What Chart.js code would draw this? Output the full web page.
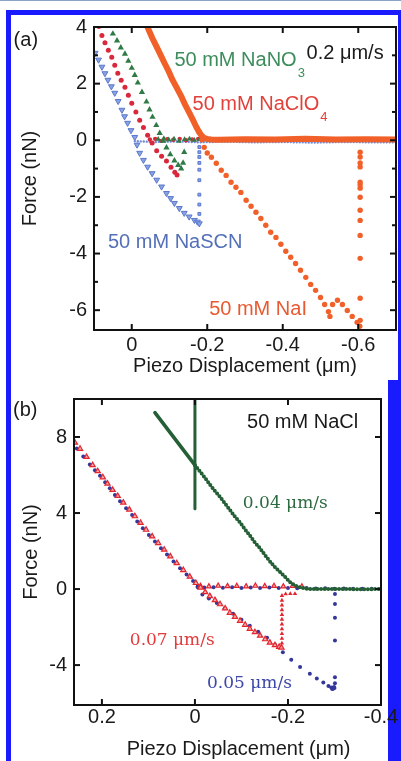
<!DOCTYPE html>
<html>
<head>
<meta charset="utf-8">
<title>Force curves</title>
<script src="https://cdn.jsdelivr.net/npm/chart.js@4.4.1/dist/chart.umd.min.js"></script>
<style>
  html, body { margin: 0; padding: 0; background: #fff; }
  body { width: 401px; height: 761px; position: relative; overflow: hidden; }
  .edge { position: absolute; background: #1a1aff; }
  canvas { position: absolute; left: 0; }
</style>
</head>
<body>
<div class="edge" style="left:0;top:0;width:401px;height:1px;background:#8aa4c4"></div>
<div class="edge" style="left:6px;top:10px;width:395px;height:5px"></div>
<div class="edge" style="left:6px;top:10px;width:5px;height:751px"></div>
<div class="edge" style="left:398px;top:10px;width:3px;height:370px"></div>
<div class="edge" style="left:388px;top:380px;width:13px;height:381px"></div>
<canvas id="panel-a" width="401" height="380" style="top:0"></canvas>
<canvas id="panel-b" width="401" height="381" style="top:380px"></canvas>
<script>
// ---- panel (a): 0.2 um/s, x = piezo displacement (um), y = force (nN)
const xTicksA = [0, -0.2, -0.4, -0.6];
const xLabelsA = ['0', '-0.2', '-0.4', '-0.6'];
const yTicksA = [-6, -4, -2, 0, 2, 4];
const yMinorA = [-5, -3, -1, 1, 3];

const nano3Retract = [[0.061,4.05],[0.050,3.76],[0.039,3.52],[0.029,3.27],[0.018,3.05],[0.009,2.80],[0.000,2.55],[-0.008,2.30],[-0.016,2.03],[-0.027,1.70],[-0.039,1.36],[-0.047,1.08],[-0.055,0.82],[-0.065,0.53],[-0.074,0.25],[-0.083,-0.02],[-0.092,-0.26],[-0.102,-0.50],[-0.113,-0.72],[-0.123,-0.88],[-0.131,-1.00],[-0.136,-0.80],[-0.139,-0.42]];
const nano3Approach = [[-0.070,0.04],[-0.085,0.06],[-0.098,0.02],[-0.112,0.05],[-0.125,-0.03],[-0.140,0.03],[-0.153,0.05],[-0.166,0.00],[-0.180,0.04],[-0.194,0.02]];

const naclo4Retract = [[0.087,4.02],[0.079,3.70],[0.071,3.44],[0.062,3.18],[0.053,2.93],[0.045,2.65],[0.037,2.37],[0.028,2.12],[0.018,1.87],[0.009,1.59],[0.000,1.31],[-0.011,1.00],[-0.021,0.71],[-0.031,0.45],[-0.042,0.18],[-0.054,-0.10],[-0.066,-0.37],[-0.079,-0.56],[-0.092,-0.73],[-0.104,-0.95],[-0.114,-1.13],[-0.120,-1.23]];
const naclo4Approach = [[-0.048,0.03],[-0.062,0.05],[-0.078,-0.02],[-0.094,0.04],[-0.110,0.02],[-0.127,0.05],[-0.144,0.00],[-0.160,0.03],[-0.176,0.05]];

const nascnRetract = [[0.097,3.08],[0.088,2.84],[0.079,2.59],[0.071,2.36],[0.063,2.13],[0.054,1.90],[0.045,1.67],[0.036,1.38],[0.026,1.07],[0.019,0.84],[0.011,0.61],[0.002,0.35],[-0.008,0.11],[-0.014,-0.16],[-0.021,-0.45],[-0.031,-0.70],[-0.042,-0.94],[-0.054,-1.17],[-0.066,-1.40],[-0.079,-1.64],[-0.092,-1.87],[-0.103,-2.05],[-0.113,-2.22],[-0.126,-2.40],[-0.139,-2.57],[-0.152,-2.70],[-0.166,-2.82],[-0.174,-2.88],[-0.179,-2.94]];
const nascnJump = [[-0.179,-2.60],[-0.179,-2.27],[-0.179,-1.92],[-0.179,-1.41],[-0.179,-1.04],[-0.179,-0.80],[-0.179,-0.59],[-0.179,-0.42],[-0.179,-0.24]];
const nascnApproach = [[-0.008,-0.03],[-0.06,-0.06],[-0.12,-0.04],[-0.18,-0.07],[-0.25,-0.05],[-0.32,-0.07],[-0.40,-0.06],[-0.48,-0.08],[-0.56,-0.06],[-0.64,-0.07],[-0.70,-0.07]];

const naiApproach = [[-0.040,4.05],[-0.054,3.62],[-0.066,3.30],[-0.077,3.00],[-0.087,2.72],[-0.098,2.43],[-0.108,2.13],[-0.120,1.83],[-0.132,1.53],[-0.142,1.24],[-0.153,0.96],[-0.162,0.72],[-0.171,0.47],[-0.178,0.30],[-0.184,0.18],[-0.191,0.09],[-0.199,0.05],[-0.210,0.03],[-0.23,0.02],[-0.30,0.04],[-0.38,0.03],[-0.46,0.05],[-0.54,0.03],[-0.62,0.04],[-0.70,0.03]];
const naiRetract = [[-0.178,0.30],[-0.186,0.02],[-0.192,-0.25],[-0.200,-0.45],[-0.211,-0.60],[-0.224,-0.81],[-0.237,-1.06],[-0.250,-1.24],[-0.263,-1.48],[-0.276,-1.66],[-0.289,-1.84],[-0.303,-2.12],[-0.316,-2.33],[-0.329,-2.54],[-0.342,-2.76],[-0.355,-3.00],[-0.368,-3.25],[-0.382,-3.43],[-0.395,-3.67],[-0.408,-3.92],[-0.421,-4.13],[-0.434,-4.35],[-0.447,-4.59],[-0.461,-4.84],[-0.474,-5.09],[-0.487,-5.30],[-0.500,-5.55],[-0.511,-5.80],[-0.521,-6.05],[-0.525,-6.22]];
const naiSlip = [[-0.532,-5.80],[-0.545,-5.65],[-0.558,-5.80],[-0.571,-6.01],[-0.584,-6.22],[-0.597,-6.43],[-0.604,-6.57]];
const naiJump = [[-0.605,-6.36],[-0.605,-5.58],[-0.605,-4.17],[-0.605,-3.36],[-0.605,-2.83],[-0.605,-2.47],[-0.605,-2.01],[-0.605,-1.69],[-0.605,-1.58],[-0.605,-1.48],[-0.605,-0.94],[-0.605,-0.80],[-0.605,-0.59],[-0.605,-0.42]];

// ---- panel (b): 50 mM NaCl at three speeds
const xTicksB = [0.2, 0, -0.2, -0.4];
const xLabelsB = ['0.2', '0', '-0.2', '-0.4'];
const yTicksB = [-4, 0, 4, 8];

const slow04Solid = [[0.086,9.28],[0.000,6.52]];
const slow04Mark = [[0.000,10.0],[0.000,4.22]];
const slow04 = [[0.000,6.52],[-0.011,6.18],[-0.022,5.84],[-0.032,5.50],[-0.043,5.16],[-0.054,4.85],[-0.065,4.49],[-0.075,4.17],[-0.086,3.81],[-0.097,3.50],[-0.108,3.13],[-0.118,2.82],[-0.129,2.45],[-0.140,2.14],[-0.151,1.77],[-0.161,1.46],[-0.172,1.15],[-0.183,0.89],[-0.194,0.63],[-0.204,0.37],[-0.215,0.18],[-0.226,0.08],[-0.237,0.03],[-0.247,0.00],[-0.30,0.01],[-0.35,-0.01],[-0.40,0.00]];

const fast07Retract = [[0.258,7.70],[0.247,7.38],[0.233,6.95],[0.220,6.52],[0.209,6.20],[0.198,5.88],[0.188,5.55],[0.177,5.22],[0.166,4.90],[0.154,4.55],[0.141,4.18],[0.129,3.83],[0.117,3.48],[0.105,3.12],[0.092,2.77],[0.079,2.42],[0.066,2.07],[0.053,1.72],[0.039,1.36],[0.025,1.00],[0.011,0.65],[-0.002,0.32],[-0.012,0.08],[-0.022,-0.16],[-0.032,-0.37],[-0.043,-0.58],[-0.054,-0.80],[-0.065,-1.02],[-0.075,-1.25],[-0.086,-1.46],[-0.097,-1.67],[-0.108,-1.88],[-0.118,-2.09],[-0.129,-2.27],[-0.140,-2.45],[-0.151,-2.64],[-0.161,-2.82],[-0.172,-2.95],[-0.181,-3.04],[-0.186,-3.08]];
const fast07Jump = [[-0.187,-2.85],[-0.187,-2.60],[-0.187,-2.35],[-0.187,-2.10],[-0.187,-1.85],[-0.187,-1.60],[-0.187,-1.35],[-0.187,-1.10],[-0.187,-0.85],[-0.187,-0.60],[-0.187,-0.35],[-0.195,-0.26],[-0.205,-0.25],[-0.215,-0.25]];
const fast07Approach = [[-0.012,0.16],[-0.030,0.14],[-0.050,0.17],[-0.070,0.15],[-0.090,0.16],[-0.110,0.14],[-0.130,0.17],[-0.150,0.15],[-0.170,0.16],[-0.190,0.14],[-0.210,0.16],[-0.230,0.13]];

const mid05Retract = [[0.254,7.40],[0.240,6.98],[0.226,6.55],[0.215,6.25],[0.204,5.96],[0.193,5.62],[0.183,5.30],[0.172,4.95],[0.161,4.62],[0.148,4.25],[0.135,3.90],[0.124,3.55],[0.112,3.20],[0.099,2.84],[0.086,2.50],[0.073,2.15],[0.060,1.82],[0.046,1.45],[0.032,1.10],[0.018,0.76],[0.004,0.42],[-0.006,0.15],[-0.016,-0.28],[-0.030,-0.50],[-0.047,-0.73],[-0.064,-1.01],[-0.082,-1.30],[-0.100,-1.62],[-0.118,-1.93],[-0.136,-2.24],[-0.155,-2.56],[-0.172,-2.93],[-0.189,-3.32],[-0.207,-3.72],[-0.226,-4.10],[-0.247,-4.45],[-0.262,-4.70],[-0.276,-4.92],[-0.287,-5.10],[-0.293,-5.18],[-0.297,-5.24],[-0.300,-5.20],[-0.295,-5.26],[-0.299,-5.15]];
const mid05Jump = [[-0.301,-4.96],[-0.301,-4.64],[-0.301,-2.71],[-0.301,-1.51],[-0.301,-0.78],[-0.301,-0.26]];
const mid05Approach = [[-0.006,0.10],[-0.020,0.08],[-0.040,0.10],[-0.060,0.07],[-0.080,0.09],[-0.100,0.06],[-0.120,0.08],[-0.140,0.06],[-0.160,0.08],[-0.180,0.05],[-0.200,0.06],[-0.220,0.04],[-0.240,0.05],[-0.260,0.03],[-0.280,0.04],[-0.300,0.02],[-0.320,0.03],[-0.340,0.01],[-0.360,0.02],[-0.380,0.01],[-0.400,0.01]];

const SANS = "'Liberation Sans', Arial, sans-serif";
const SERIF = "'DejaVu Serif', serif";
Chart.defaults.font.family = SANS;
Chart.defaults.font.size = 20;
Chart.defaults.color = '#1a1a1a';

/**
 * Turns [x, y] pairs into chart points.
 */
function pts (arr) {
    return arr.map(([x, y]) => ({ x, y }));
}

/**
 * Marker-only dataset.
 */
function dots (arr, color, extra) {
    return Object.assign({
        data: pts(arr),
        showLine: false,
        pointRadius: 2.5,
        pointBackgroundColor: color,
        pointBorderColor: color,
        pointBorderWidth: 0
    }, extra);
}

/**
 * Line-only dataset (dense rows of markers drawn as a stroke).
 */
function trace (arr, color, width, dash) {
    return {
        data: pts(arr),
        showLine: true,
        pointRadius: 0,
        borderColor: color,
        borderWidth: width,
        borderDash: dash || [],
        borderCapStyle: 'round',
        borderJoinStyle: 'round',
        tension: 0
    };
}

/**
 * Box around the plot plus inward ticks on all four sides.
 */
function frame (minorY) {
    return {
        id: 'frame',
        afterDatasetsDraw (chart) {
            const { ctx, chartArea: a, scales: { x, y } } = chart;
            const mark = (x1, y1, x2, y2) => { ctx.beginPath(); ctx.moveTo(x1, y1); ctx.lineTo(x2, y2); ctx.stroke(); };
            ctx.save();
            ctx.strokeStyle = '#111';
            ctx.lineWidth = 2;
            x.ticks.forEach(t => {
                const p = x.getPixelForValue(t.value);
                mark(p, a.bottom, p, a.bottom - 6);
                mark(p, a.top, p, a.top + 6);
            });
            const side = (vals, len) => vals.forEach(v => {
                const p = y.getPixelForValue(v);
                mark(a.left, p, a.left + len, p);
                mark(a.right, p, a.right - len, p);
            });
            side(y.ticks.map(t => t.value), 6);
            side(minorY, 4);
            ctx.strokeRect(a.left, a.top, a.right - a.left, a.bottom - a.top);
            ctx.restore();
        }
    };
}

/**
 * Text labels anchored in data units.
 */
function notes (items) {
    return {
        id: 'notes',
        afterDraw (chart) {
            const { ctx, scales: { x, y } } = chart;
            items.forEach(n => {
                const px = x.getPixelForValue(n.x), py = y.getPixelForValue(n.y);
                ctx.save();
                ctx.font = n.font || `20px ${SANS}`;
                ctx.fillStyle = n.color;
                ctx.textBaseline = 'middle';
                ctx.textAlign = 'left';
                ctx.fillText(n.text, px, py);
                if (n.sub) {
                    const w = ctx.measureText(n.text).width;
                    ctx.font = `13px ${SANS}`;
                    ctx.fillText(n.sub, px + w + 1, py + 13);
                }
                ctx.restore();
            });
        }
    };
}

/**
 * Shared axis setup.
 */
function axes (c) {
    return {
        x: {
            type: 'linear', reverse: true, min: c.xMin, max: c.xMax,
            grid: { display: false, drawTicks: false }, border: { display: false },
            afterBuildTicks: s => { s.ticks = c.xTicks.map(v => ({ value: v })); },
            afterFit: s => { s.height = c.xHeight; },
            ticks: { autoSkip: false, maxRotation: 0, padding: c.xPad, callback: v => c.xLabels[c.xTicks.indexOf(v)] },
            title: { display: true, text: c.xTitle, padding: { top: 0, bottom: c.titlePad } }
        },
        y: {
            type: 'linear', min: c.yMin, max: c.yMax,
            grid: { display: false, drawTicks: false }, border: { display: false },
            afterBuildTicks: s => { s.ticks = c.yTicks.map(v => ({ value: v })); },
            afterFit: s => { s.width = c.yWidth; },
            ticks: { autoSkip: false, padding: 7, callback: v => String(v) },
            title: { display: true, text: 'Force (nN)', padding: { top: 4, bottom: 0 } }
        }
    };
}

const green = '#2f7a45', red = '#d9283c', blue = '#5b78cc', orange = '#f2602a';

new Chart(document.getElementById('panel-a'), {
    type: 'scatter',
    data: {
        datasets: [
            dots(naiRetract, orange, { pointRadius: 2.7 }),
            dots(naiSlip, orange, { pointRadius: 2.7 }),
            dots(naiJump, orange, { pointRadius: 2.7 }),
            trace(naiApproach, orange, 6),
            dots(nano3Retract, green, { pointStyle: 'triangle', pointRadius: 3.6 }),
            dots(nano3Approach, green, { pointStyle: 'triangle', pointRadius: 3.2 }),
            dots(naclo4Retract, red, { pointRadius: 2.5 }),
            dots(naclo4Approach, red, { pointRadius: 2.2 }),
            dots(nascnRetract, '#8aa2e2', { pointStyle: 'triangle', pointRotation: 180, pointRadius: 3.4, pointBorderColor: blue, pointBorderWidth: 1 }),
            dots(nascnJump, '#8aa2e2', { pointStyle: 'rect', pointRadius: 2, pointBorderColor: blue, pointBorderWidth: 1 }),
            trace(nascnApproach, '#6d88d6', 2.4, [0, 3])
        ]
    },
    options: {
        responsive: false, animation: false, events: [],
        layout: { padding: { left: 14, top: 27, right: 3, bottom: 0 } },
        plugins: { legend: { display: false }, tooltip: { enabled: false } },
        scales: axes({
            xMin: -0.7, xMax: 0.1, xTicks: xTicksA, xLabels: xLabelsA, xHeight: 50, xPad: 3,
            xTitle: 'Piezo Displacement (μm)', titlePad: 2,
            yMin: -6.7, yMax: 4, yTicks: yTicksA, yWidth: 80
        })
    },
    plugins: [frame(yMinorA), notes([
        { text: '50 mM NaNO', sub: '3', x: -0.113, y: 2.82, color: '#3c8c5c' },
        { text: '0.2 μm/s', x: -0.463, y: 3.08, color: '#1a1a1a' },
        { text: '50 mM NaClO', sub: '4', x: -0.161, y: 1.28, color: '#e2403a' },
        { text: '50 mM NaSCN', x: 0.063, y: -3.60, color: '#5470b8' },
        { text: '50 mM NaI', x: -0.205, y: -5.96, color: '#e85a30' },
        { text: '(a)', x: 0.313, y: 3.54, color: '#1a1a1a' }
    ])]
});

const dkGreen = '#245f36', navy = '#34379a', brightRed = '#e3262e';

new Chart(document.getElementById('panel-b'), {
    type: 'scatter',
    data: {
        datasets: [
            trace(slow04, dkGreen, 4, [0, 3.6]),
            trace(slow04Solid, dkGreen, 3.6),
            trace(slow04Mark, dkGreen, 3),
            dots(fast07Retract, '#f6aaaa', { pointStyle: 'triangle', pointRadius: 3, pointBorderColor: brightRed, pointBorderWidth: 1.2 }),
            dots(fast07Jump, brightRed, { pointStyle: 'triangle', pointRadius: 2.6 }),
            dots(fast07Approach, '#f6aaaa', { pointStyle: 'triangle', pointRadius: 2.8, pointBorderColor: brightRed, pointBorderWidth: 1.2 }),
            dots(mid05Retract, navy, { pointRadius: 2 }),
            dots(mid05Jump, navy, { pointRadius: 2 }),
            dots(mid05Approach, navy, { pointRadius: 2 })
        ]
    },
    options: {
        responsive: false, animation: false, events: [],
        layout: { padding: { left: 15, top: 17, right: 20, bottom: 0 } },
        plugins: { legend: { display: false }, tooltip: { enabled: false } },
        scales: axes({
            xMin: -0.4, xMax: 0.26, xTicks: xTicksB, xLabels: xLabelsB, xHeight: 56, xPad: 0,
            xTitle: '    Piezo Displacement (μm)', titlePad: 0,
            yMin: -6.1, yMax: 10, yTicks: yTicksB, yWidth: 59
        })
    },
    plugins: [frame([]), notes([
        { text: '50 mM NaCl', x: -0.112, y: 8.76, color: '#1a1a1a' },
        { text: '0.04 μm/s', x: -0.103, y: 4.49, color: '#2c6a40', font: `17px ${SERIF}` },
        { text: '0.07 μm/s', x: 0.140, y: -2.71, color: '#e33b3b', font: `17px ${SERIF}` },
        { text: '0.05 μm/s', x: -0.026, y: -4.96, color: '#3d47a8', font: `17px ${SERIF}` },
        { text: '(b)', x: 0.391, y: 9.39, color: '#1a1a1a' }
    ])]
});
</script>
</body>
</html>
